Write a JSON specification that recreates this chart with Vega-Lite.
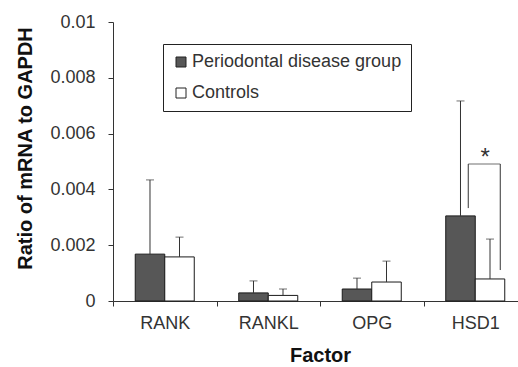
{
  "$schema": "https://vega.github.io/schema/vega-lite/v6.json",
  "width": 405,
  "height": 279,
  "autosize": {"type": "none"},
  "padding": {"left": 113, "top": 22, "right": 0, "bottom": 66},
  "background": "white",
  "config": {
    "view": {"stroke": null},
    "font": "Liberation Sans",
    "axis": {
      "labelFont": "Liberation Sans",
      "titleFont": "Liberation Sans",
      "labelFontSize": 18,
      "labelColor": "#333333",
      "titleFontSize": 20,
      "titleFontWeight": "bold",
      "titleColor": "#111111",
      "domainColor": "#333333",
      "tickColor": "#333333",
      "tickSize": 5,
      "grid": false
    }
  },
  "datasets": {
    "bars": [
      {"factor": "RANK", "group": "Periodontal disease group", "value": 0.00168, "upper": 0.00434},
      {"factor": "RANK", "group": "Controls", "value": 0.00158, "upper": 0.00229},
      {"factor": "RANKL", "group": "Periodontal disease group", "value": 0.00029, "upper": 0.00072},
      {"factor": "RANKL", "group": "Controls", "value": 0.0002, "upper": 0.00043},
      {"factor": "OPG", "group": "Periodontal disease group", "value": 0.00043, "upper": 0.00082},
      {"factor": "OPG", "group": "Controls", "value": 0.00068, "upper": 0.00143},
      {"factor": "HSD1", "group": "Periodontal disease group", "value": 0.00305, "upper": 0.00717},
      {"factor": "HSD1", "group": "Controls", "value": 0.00079, "upper": 0.00222}
    ],
    "bracketLeft": [
      {"factor": "HSD1", "y": 0.00333, "y2": 0.00491}
    ],
    "bracketRight": [
      {"factor": "HSD1", "y": 0.00111, "y2": 0.00491}
    ],
    "bracketTop": [
      {"factor": "HSD1", "y": 0.00491}
    ],
    "star": [
      {"factor": "HSD1", "y": 0.00491, "label": "*"}
    ]
  },
  "encoding": {
    "x": {
      "field": "factor",
      "type": "nominal",
      "sort": ["RANK", "RANKL", "OPG", "HSD1"],
      "scale": {"range": [0, 414], "paddingInner": 0, "paddingOuter": 0},
      "axis": {"title": "Factor", "labelAngle": 0, "tickBand": "extent", "labelPadding": 8, "titlePadding": 13, "titleX": 207}
    }
  },
  "layer": [
    {
      "data": {"name": "bars"},
      "mark": {"type": "bar", "stroke": "#1a1a1a", "strokeWidth": 1},
      "encoding": {
        "xOffset": {
          "field": "group",
          "type": "nominal",
          "sort": ["Periodontal disease group", "Controls"],
          "scale": {"paddingInner": 0, "paddingOuter": 0.754}
        },
        "y": {
          "field": "value",
          "type": "quantitative",
          "scale": {"domain": [0, 0.01], "nice": false},
          "axis": {
            "title": "Ratio of mRNA to GAPDH",
            "values": [0, 0.002, 0.004, 0.006, 0.008, 0.01],
            "labelExpr": "datum.value == 0 ? '0' : format(datum.value, '.3~f')",
            "labelPadding": 13,
            "titlePadding": 14,
            "titleY": 126
          }
        },
        "fill": {
          "field": "group",
          "type": "nominal",
          "sort": ["Periodontal disease group", "Controls"],
          "scale": {"domain": ["Periodontal disease group", "Controls"], "range": ["#575757", "#ffffff"]},
          "legend": {
            "title": null,
            "orient": "none",
            "legendX": 50,
            "legendY": 22,
            "padding": 9,
            "strokeColor": "#222222",
            "fillColor": "#ffffff",
            "symbolType": "square",
            "symbolSize": 100,
            "symbolStrokeColor": "#222222",
            "symbolStrokeWidth": 1,
            "labelFontSize": 18,
            "labelFont": "Liberation Sans",
            "labelColor": "#333333",
            "labelOffset": 2,
            "rowPadding": 13,
            "labelLimit": 400
          }
        }
      }
    },
    {
      "data": {"name": "bars"},
      "mark": {"type": "rule", "color": "#333333", "strokeWidth": 1},
      "encoding": {
        "xOffset": {"field": "group", "type": "nominal", "sort": ["Periodontal disease group", "Controls"]},
        "y": {"field": "value", "type": "quantitative"},
        "y2": {"field": "upper"}
      }
    },
    {
      "data": {"name": "bars"},
      "mark": {"type": "tick", "color": "#333333", "thickness": 1, "size": 8, "orient": "horizontal"},
      "encoding": {
        "xOffset": {"field": "group", "type": "nominal", "sort": ["Periodontal disease group", "Controls"]},
        "y": {"field": "upper", "type": "quantitative"}
      }
    },
    {
      "data": {"name": "bracketLeft"},
      "mark": {"type": "rule", "color": "#333333", "strokeWidth": 1, "xOffset": -7},
      "encoding": {
        "y": {"field": "y", "type": "quantitative"},
        "y2": {"field": "y2"}
      }
    },
    {
      "data": {"name": "bracketRight"},
      "mark": {"type": "rule", "color": "#333333", "strokeWidth": 1, "xOffset": 25},
      "encoding": {
        "y": {"field": "y", "type": "quantitative"},
        "y2": {"field": "y2"}
      }
    },
    {
      "data": {"name": "bracketTop"},
      "mark": {"type": "tick", "color": "#333333", "thickness": 1, "size": 32, "orient": "horizontal", "xOffset": 9},
      "encoding": {
        "y": {"field": "y", "type": "quantitative"}
      }
    },
    {
      "data": {"name": "star"},
      "mark": {"type": "text", "fontSize": 24, "color": "#333333", "baseline": "alphabetic", "dx": 10, "dy": 1},
      "encoding": {
        "y": {"field": "y", "type": "quantitative"},
        "text": {"field": "label"}
      }
    }
  ]
}
